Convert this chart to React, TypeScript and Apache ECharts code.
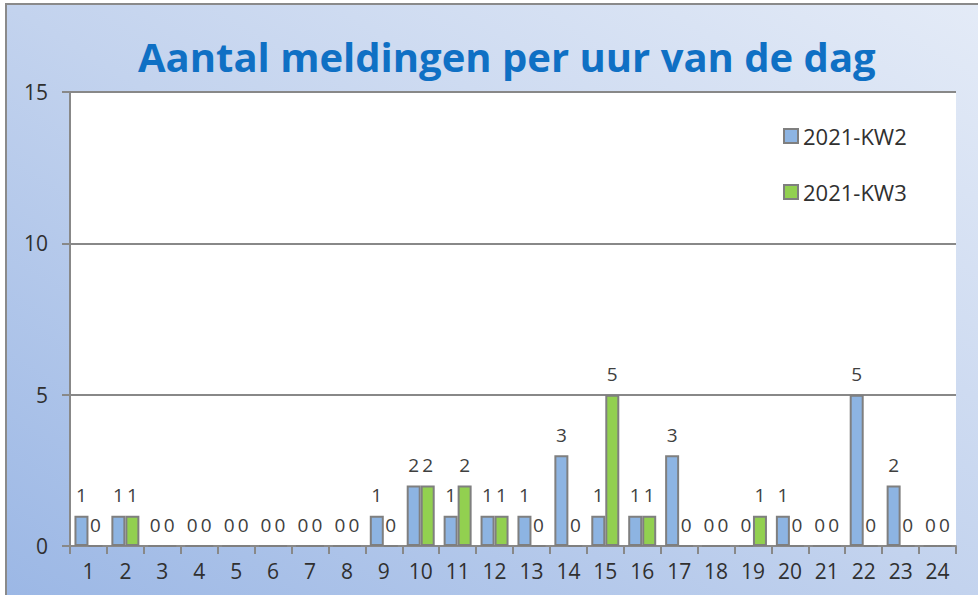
import React, { useEffect, useRef } from "react";
import * as echarts from "echarts";

const hours = ["1","2","3","4","5","6","7","8","9","10","11","12","13","14","15","16","17","18","19","20","21","22","23","24"];
const kw2 = [1,1,0,0,0,0,0,0,1,2,1,1,1,3,1,1,3,0,0,1,0,5,2,0];
const kw3 = [0,1,0,0,0,0,0,0,0,2,2,1,0,0,5,1,0,0,1,0,0,0,0,0];
const seriesNames = ["2021-KW2", "2021-KW3"];
const titleText = "Aantal meldingen per uur van de dag";

export default function App() {
  const ref = useRef<HTMLDivElement>(null);
  useEffect(() => {
    document.body.style.margin = "0";
    const chart = echarts.init(ref.current!, null, { renderer: "svg" });
    const font = "'Open Sans', 'Noto Sans', sans-serif";
    const labelStyle = {
      show: true,
      position: "top" as const,
      distance: 11,
      fontSize: 19,
      color: "#404040",
      fontFamily: font,
    };
    chart.setOption({
      animation: false,
      graphic: [
        {
          type: "rect",
          shape: { x: 6, y: 4, width: 980, height: 600 },
          style: {
            fill: {
              type: "linear",
              x: 0, y: 1, x2: 1, y2: 0,
              colorStops: [
                { offset: 0, color: "#9BB7E5" },
                { offset: 0.5, color: "#C3D3EE" },
                { offset: 1, color: "#E4EBF7" },
              ],
            },
            stroke: "#8A8A8A",
            lineWidth: 2,
          },
          z: -10,
        },
      ],
      title: {
        text: titleText,
        left: 133,
        top: 31,
        textStyle: {
          fontSize: 40,
          fontWeight: "bold",
          color: "#0F70C4",
          fontFamily: font,
        },
      },
      legend: {
        orient: "vertical",
        left: 778,
        top: 120,
        itemGap: 34,
        itemWidth: 14,
        itemHeight: 14,
        icon: "rect",
        textStyle: { fontSize: 22, color: "#303030", fontFamily: font },
        data: seriesNames,
      },
      grid: {
        left: 70,
        right: 22,
        top: 92,
        bottom: 49,
        show: true,
        backgroundColor: "#FFFFFF",
        borderWidth: 0,
      },
      xAxis: {
        type: "category",
        data: hours,
        axisLine: { lineStyle: { color: "#888888", width: 2 } },
        axisTick: { show: true, length: 8, lineStyle: { color: "#888888", width: 2 } },
        axisLabel: { fontSize: 21, color: "#303030", margin: 14, fontFamily: font },
      },
      yAxis: {
        type: "value",
        min: 0,
        max: 15,
        interval: 5,
        axisLine: { show: true, lineStyle: { color: "#888888", width: 2 } },
        axisTick: { show: true, length: 8, lineStyle: { color: "#888888", width: 2 } },
        splitLine: { lineStyle: { color: "#888888", width: 2 } },
        axisLabel: { fontSize: 21, color: "#303030", margin: 22, fontFamily: font },
      },
      series: [
        {
          name: seriesNames[0],
          type: "bar",
          data: kw2,
          barWidth: 14,
          barGap: "0%",
          itemStyle: { color: "#8DB4E2", borderColor: "#7F7F7F", borderWidth: 2 },
          label: labelStyle,
        },
        {
          name: seriesNames[1],
          type: "bar",
          data: kw3,
          barWidth: 14,
          barGap: "0%",
          itemStyle: { color: "#92D050", borderColor: "#7F7F7F", borderWidth: 2 },
          label: labelStyle,
        },
      ],
    });
    return () => chart.dispose();
  }, []);
  return (
    <div
      ref={ref}
      style={{ position: "absolute", left: 0, top: 0, width: 978, height: 595 }}
    />
  );
}
